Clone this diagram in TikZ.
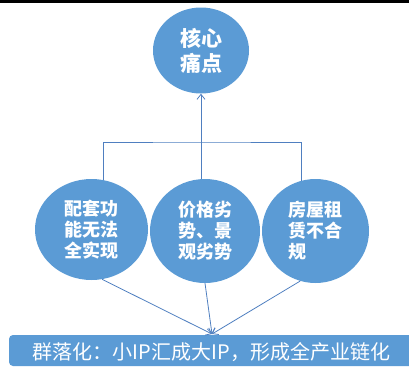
\documentclass[tikz,border=0pt]{standalone}
\usepackage{fontspec}
\newfontfamily\cjk{Noto Sans CJK SC}
\usetikzlibrary{shapes.geometric,arrows.meta}
\definecolor{cblue}{HTML}{5B9BD5}
\definecolor{lblue}{HTML}{4F7FC0}
\tikzset{
  bubble/.style={ellipse, fill=cblue, inner sep=0pt, text=white, font=\cjk\bfseries\fontsize{18}{21}\selectfont, align=center},
  conn/.style={draw=lblue, line width=0.8pt},
  tip/.style={conn, -{Straight Barb[length=5pt,width=8pt,line width=0.8pt]}}
}
\begin{document}
\begin{tikzpicture}[x=1pt,y=-1pt]
\useasboundingbox (0,0) rectangle (409,367);
\fill[black] (0,0) rectangle (409,2.6);
\node[bubble, minimum width=96pt, minimum height=86pt, font=\cjk\bfseries\fontsize{21}{25}\selectfont] (top) at (201,50.5) {核心\\痛点};
\node[bubble, minimum width=113pt, minimum height=101pt] (left) at (91.5,229.5) {配套功\\能无法\\全实现};
\node[bubble, minimum width=110pt, minimum height=104pt] (mid) at (205,231) {价格劣\\势、景\\观劣势};
\node[bubble, minimum width=107pt, minimum height=104pt, align=left] (right) at (315.5,231) {房屋租\\赁不合\\规\phantom{赁不}};
\begin{scope}
\clip (0,0) rectangle (409,367);
\fill[cblue, rounded corners=4pt] (9,335) rectangle (420,366);
\end{scope}
\node[text=white, font=\cjk\fontsize{20}{24}\selectfont, anchor=center] (bar) at (211.5,352) {群落化：小IP汇成大IP，形成全产业链化};
\coordinate (hub) at (201.5,142);
\coordinate (sink) at (212,334);
\draw[conn] (left.77) |- (hub) -| (right.106);
\draw[tip] (mid.north -| top.south) -- (top.south);
\draw[tip] (left.-78) -- (sink);
\draw[tip] (mid.south) -- (sink);
\draw[tip] (right.-107) -- (sink);
\end{tikzpicture}
\end{document}
